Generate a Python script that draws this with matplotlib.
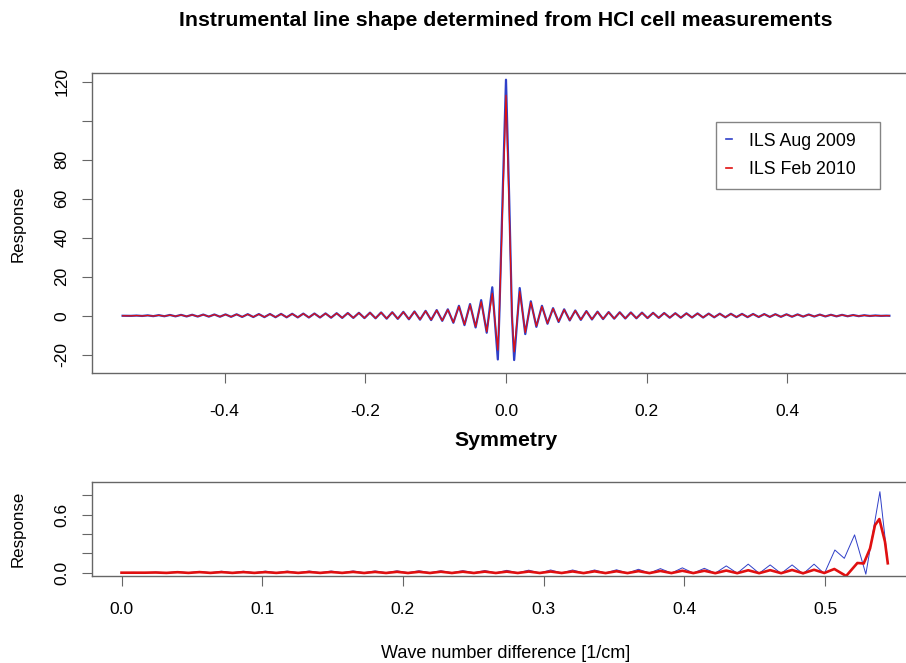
import numpy as np
import matplotlib
matplotlib.use("Agg")
import matplotlib.pyplot as plt

plt.rcParams['font.family'] = ['Liberation Sans', 'DejaVu Sans']
plt.rcParams['axes.unicode_minus'] = False

# ---- top panel: ILS ----
# main lobe (x in 1/cm, response)
lobe_x = [-0.0095, -0.0048, 0.0, 0.0045, 0.0085]
aug_lobe = [0, 61, 121, 61, 0]
feb_lobe = [0, 56, 113, 56, 0]

# side lobe extrema, going outward from the centre, spaced ~0.0079 apart
side_first = 0.0116
side_step = 0.0079
aug_right = [-22.7, 14.2, -9.4, 7.4, -5.7, 5.1, -4.1, 3.9, -3.2, 3.3,
             -2.4, 2.7, -2.1, 2.4, -1.9, 2.1, -1.7, 1.9, -1.5, 1.8,
             -1.4, 1.7, -1.3, 1.6, -1.2, 1.5, -1.1, 1.4, -1.0, 1.3,
             -1.0, 1.25, -0.9, 1.2, -0.9, 1.1, -0.8, 1.05, -0.8, 1.0,
             -0.7, 0.95, -0.7, 0.9, -0.65, 0.85, -0.6, 0.8, -0.55, 0.75,
             -0.5, 0.7, -0.45, 0.65, -0.4, 0.6, -0.35, 0.5, -0.3, 0.45,
             -0.25, 0.35, -0.2, 0.25, -0.1, 0.15, -0.05, 0.05]
aug_left = [-22.4, 14.6, -8.7, 8.0, -6.0, 6.0, -4.8, 5.1, -3.6, 3.3,
            -2.6, 2.9, -2.2, 2.5, -2.0, 2.2, -1.8, 2.0, -1.6, 1.8,
            -1.5, 1.7, -1.3, 1.6, -1.2, 1.5, -1.1, 1.4, -1.1, 1.3,
            -1.0, 1.2, -0.9, 1.15, -0.9, 1.1, -0.85, 1.0, -0.8, 0.95,
            -0.75, 0.9, -0.7, 0.85, -0.65, 0.8, -0.6, 0.75, -0.55, 0.7,
            -0.5, 0.65, -0.45, 0.6, -0.4, 0.5, -0.35, 0.45, -0.3, 0.4,
            -0.25, 0.3, -0.2, 0.2, -0.1, 0.1, -0.05, 0.0]
feb_right = [-18.5, 12.5, -8.6, 6.9, -5.3, 4.8, -3.9, 3.7, -3.0, 3.1,
             -2.3, 2.6, -2.0, 2.3, -1.8, 2.0, -1.6, 1.8, -1.45, 1.7,
             -1.35, 1.6, -1.25, 1.5, -1.15, 1.45, -1.05, 1.35, -0.95, 1.25,
             -0.95, 1.2, -0.85, 1.15, -0.85, 1.05, -0.75, 1.0, -0.75, 0.95,
             -0.65, 0.9, -0.65, 0.85, -0.6, 0.8, -0.55, 0.75, -0.5, 0.7,
             -0.45, 0.65, -0.4, 0.6, -0.35, 0.55, -0.3, 0.45, -0.25, 0.4,
             -0.2, 0.3, -0.15, 0.2, -0.1, 0.1, -0.05, 0.05]
feb_left = [-17.6, 11.5, -8.2, 7.2, -5.6, 5.6, -4.5, 4.8, -3.4, 3.1,
            -2.5, 2.8, -2.1, 2.4, -1.9, 2.1, -1.7, 1.9, -1.5, 1.75,
            -1.4, 1.65, -1.25, 1.55, -1.15, 1.45, -1.05, 1.35, -1.05, 1.25,
            -0.95, 1.15, -0.85, 1.1, -0.85, 1.05, -0.8, 0.95, -0.75, 0.9,
            -0.7, 0.85, -0.65, 0.8, -0.6, 0.75, -0.55, 0.7, -0.5, 0.65,
            -0.45, 0.6, -0.4, 0.55, -0.35, 0.45, -0.3, 0.4, -0.25, 0.35,
            -0.2, 0.25, -0.15, 0.15, -0.1, 0.1, -0.05, 0.0]
x_end = 0.545

# ---- bottom panel: wave number difference ----
# alternating trough / peak, spaced ~0.0078 apart from 0.0008
diff_first = 0.0008
diff_step = 0.0078
aug_diff = [0.0, 0.003, 0.0, 0.005, 0.0, 0.01, 0.0, 0.013, 0.0, 0.015,
            0.0, 0.015, 0.0, 0.016, 0.0, 0.016, 0.0, 0.017, 0.0, 0.017,
            0.0, 0.018, 0.0, 0.018, 0.0, 0.019, 0.0, 0.02, 0.0, 0.02,
            0.0, 0.021, 0.0, 0.022, -0.002, 0.024, -0.002, 0.026, -0.003, 0.028,
            -0.003, 0.028, -0.003, 0.028, -0.003, 0.03, -0.004, 0.035, -0.004, 0.042,
            -0.004, 0.05, -0.004, 0.045, -0.005, 0.07, -0.005, 0.088, -0.006, 0.08,
            -0.008, 0.08, -0.012, 0.088]
feb_diff = [0.0, 0.0, 0.0, 0.002, -0.002, 0.005, -0.002, 0.006, -0.002, 0.006,
            -0.002, 0.006, -0.002, 0.006, -0.002, 0.007, -0.002, 0.007, -0.002, 0.007,
            -0.002, 0.008, -0.003, 0.008, -0.003, 0.009, -0.003, 0.009, -0.003, 0.01,
            -0.003, 0.01, -0.003, 0.011, -0.003, 0.011, -0.003, 0.012, -0.003, 0.012,
            -0.003, 0.013, -0.004, 0.014, -0.004, 0.015, -0.004, 0.016, -0.004, 0.018,
            -0.004, 0.02, -0.004, 0.02, -0.005, 0.022, -0.005, 0.025, -0.005, 0.026,
            -0.005, 0.028, -0.006, 0.03]
aug_tail_x = [0.4995, 0.507, 0.5137, 0.521, 0.529, 0.539, 0.5446]
aug_tail = [-0.01, 0.234, 0.148, 0.39, -0.015, 0.835, 0.105]
feb_tail_x = [0.4995, 0.5066, 0.515, 0.523, 0.5275, 0.532, 0.5355, 0.5386, 0.5426, 0.5446]
feb_tail = [-0.003, 0.038, -0.034, 0.10, 0.095, 0.25, 0.49, 0.553, 0.32, 0.097]

labels = ['ILS Aug 2009', 'ILS Feb 2010']
blue = '#2f3fc8'
red = '#e01010'
grey = '#666666'

# assemble the top curves
side_x = side_first + side_step * np.arange(len(aug_right))
top_x = np.concatenate([[-x_end], -side_x[::-1], lobe_x, side_x, [x_end]])
aug_top = np.concatenate([[0], aug_left[::-1], aug_lobe, aug_right, [0]])
feb_top = np.concatenate([[0], feb_left[::-1], feb_lobe, feb_right, [0]])

# assemble the bottom curves
grid = diff_first + diff_step * np.arange(len(aug_diff))
aug_bx = np.concatenate([[0.0], grid, aug_tail_x])
aug_by = np.concatenate([[0.0], aug_diff, aug_tail])
feb_bx = np.concatenate([[0.0], grid, feb_tail_x])
feb_by = np.concatenate([[0.0], feb_diff, feb_tail])

W, H = 906, 663
fig = plt.figure(figsize=(W / 100, H / 100), dpi=100)

# axes run past the right edge like in the reference
ax1 = fig.add_axes([91.7 / W, 1 - 373.3 / H, 828.3 / W, 300.6 / H])
ax2 = fig.add_axes([91.7 / W, 1 - 575.7 / H, 828.3 / W, 93.4 / H])

ax1.plot(top_x, aug_top, color=blue, lw=1.6, label=labels[0])
ax1.plot(top_x, feb_top, color=red, lw=0.9, label=labels[1])
ax1.set_xlim(-0.5889, 0.5885)
ax1.set_ylim(-29.5, 124.6)
ax1.set_xticks([-0.4, -0.2, 0.0, 0.2, 0.4])
ax1.set_yticks([-20, 0, 20, 40, 60, 80, 100, 120])
ax1.set_yticklabels(['-20', '0', '20', '40', '60', '80', '', '120'])

ax2.plot(aug_bx, aug_by, color=blue, lw=0.7)
ax2.plot(feb_bx, feb_by, color=red, lw=1.9)
ax2.set_xlim(-0.0212, 0.5675)
ax2.set_ylim(-0.031, 0.932)
ax2.set_xticks([0.0, 0.1, 0.2, 0.3, 0.4, 0.5])
ax2.set_yticks([0.0, 0.2, 0.4, 0.6, 0.8])
ax2.set_yticklabels(['0.0', '', '', '0.6', ''])

for ax in (ax1, ax2):
    for sp in ax.spines.values():
        sp.set_color(grey)
        sp.set_linewidth(1.0)
    ax.tick_params(length=7, width=0.8, color=grey, labelsize=12.5)
    ax.tick_params(axis='y', labelrotation=90, pad=9)
    for t in ax.get_yticklabels():
        t.set_va('center')
ax1.tick_params(axis='x', pad=15)
ax2.tick_params(axis='x', pad=12)

# legend box stretched to the reference width
leg = ax1.legend(loc='upper left',
                 bbox_to_anchor=(715.7 / W, 1 - 188 / H, 164.3 / W, 66 / H),
                 bbox_transform=fig.transFigure, borderaxespad=0, mode='expand',
                 handlelength=0.3, handletextpad=1.0, borderpad=0.6,
                 labelspacing=0.65, fontsize=12.8, fancybox=False)
leg.get_frame().set_edgecolor(grey)
leg.get_frame().set_linewidth(1.0)
for h in leg.get_lines():
    h.set_linewidth(1.2)

fig.text(506 / W, 1 - 20 / H, 'Instrumental line shape determined from HCl cell measurements',
         ha='center', va='center', fontsize=15.3, fontweight='bold')
fig.text(506 / W, 1 - 440 / H, 'Symmetry', ha='center', va='center',
         fontsize=15.3, fontweight='bold')
fig.text(18 / W, 1 - 224 / H, 'Response', ha='center', va='center',
         rotation=90, fontsize=12.2)
fig.text(18 / W, 1 - 529 / H, 'Response', ha='center', va='center',
         rotation=90, fontsize=12.2)
fig.text(506 / W, 1 - 654 / H, 'Wave number difference [1/cm]',
         ha='center', va='center', fontsize=13)

fig.savefig('out.png', dpi=100)
